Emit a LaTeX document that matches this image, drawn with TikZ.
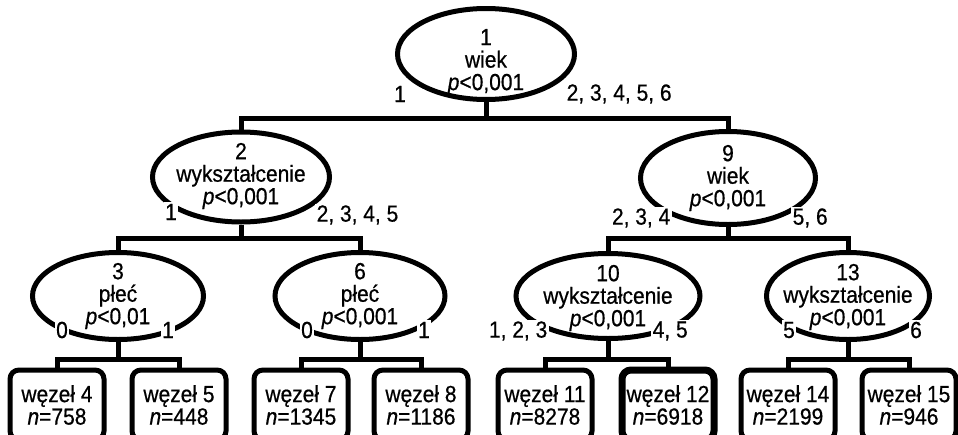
\documentclass[tikz,border=0pt]{standalone}
\usepackage{fontspec}
\setmainfont[FakeStretch=0.9,FakeBold=0.6]{Liberation Sans}
\usetikzlibrary{shapes.geometric}
\begin{document}
\begin{tikzpicture}[x=1pt,y=1pt,
  every node/.style={font=\fontsize{23.3}{22.5}\selectfont, inner sep=0pt},
  split/.style={draw, ellipse, line width=5pt, fill=white, inner sep=0pt},
  txt/.style={align=center},
  lbl/.style={fill=white, inner sep=1.5pt},
  leaf/.style={draw, rectangle, rounded corners=9pt, line width=5pt, minimum width=94pt, minimum height=70pt, fill=white, align=center},
  conn/.style={line width=5pt}]
\useasboundingbox (0,0) rectangle (958,-434);

% split nodes (ellipses)
\node[split, minimum width=177pt, minimum height=91pt] (E1) at (486,-54) {};
\node[split, minimum width=177pt, minimum height=90pt] (E2) at (241,-177) {};
\node[split, minimum width=175pt, minimum height=93pt] (E9) at (728,-178) {};
\node[split, minimum width=171pt, minimum height=87pt] (E3) at (118,-296) {};
\node[split, minimum width=170pt, minimum height=87pt] (E6) at (360,-296) {};
\node[split, minimum width=184pt, minimum height=85pt] (E10) at (608,-296) {};
\node[split, minimum width=163pt, minimum height=87pt] (E13) at (848,-296) {};

% texts in ellipses
\node[txt] (T1) at (486,-62) {1\\wiek\\\textit{p}<0,001};
\node[txt] (T2) at (241,-176) {2\\wykształcenie\\\textit{p}<0,001};
\node[txt] (T9) at (728,-178) {9\\wiek\\\textit{p}<0,001};
\node[txt] (T3) at (118,-296) {3\\płeć\\\textit{p}<0,01};
\node[txt] (T6) at (360,-296) {6\\płeć\\\textit{p}<0,001};
\node[txt] (T10) at (608,-298) {10\\wykształcenie\\\textit{p}<0,001};
\node[txt] (T13) at (848,-297) {13\\wykształcenie\\\textit{p}<0,001};

% leaves
\node[leaf] (B4) at (57,-405) {węzeł 4\\\textit{n}=758};
\node[leaf] (B5) at (179,-405) {węzeł 5\\\textit{n}=448};
\node[leaf] (B7) at (301,-405) {węzeł 7\\\textit{n}=1345};
\node[leaf] (B8) at (421,-405) {węzeł 8\\\textit{n}=1186};
\node[leaf] (B11) at (545,-405) {węzeł 11\\\textit{n}=8278};
\node[leaf, line width=7pt, minimum width=92pt] (B12) at (668,-405) {węzeł 12\\\textit{n}=6918};
\node[leaf] (B14) at (788,-405) {węzeł 14\\\textit{n}=2199};
\node[leaf] (B15) at (909,-405) {węzeł 15\\\textit{n}=946};

% junctions
\coordinate (J1) at (486,-118);
\coordinate (J2) at (241,-238);
\coordinate (J9) at (728,-238);
\coordinate (J3) at (118,-359);
\coordinate (J6) at (360,-359);
\coordinate (J10) at (608,-359);
\coordinate (J13) at (848,-359);

% connectors
\draw[conn] (E1.south) -- (J1);
\draw[conn] (E2.north) |- (J1) -| (E9.north);
\draw[conn] (E2.south) -- (J2);
\draw[conn] (E3.north) |- (J2) -| (E6.north);
\draw[conn] (E9.south) -- (J9);
\draw[conn] (E10.north) |- (J9) -| (E13.north);
\draw[conn] (E3.south) -- (J3);
\draw[conn] (B4.north) |- (J3) -| (B5.north);
\draw[conn] (E6.south) -- (J6);
\draw[conn] (B7.north) |- (J6) -| (B8.north);
\draw[conn] (E10.south) -- (J10);
\draw[conn] (B11.north) |- (J10) -| (B12.north);
\draw[conn] (E13.south) -- (J13);
\draw[conn] (B14.north) |- (J13) -| (B15.north);

% edge labels
\node[lbl] (L1a) at (400,-94) {1};
\node[lbl, anchor=west] (L1b) at (565,-94) {2, 3, 4, 5, 6};
\node[lbl] (L2a) at (171,-212) {1};
\node[lbl, anchor=west] (L2b) at (315,-215) {2, 3, 4, 5};
\node[lbl, anchor=east] (L9a) at (672,-218) {2, 3, 4};
\node[lbl, anchor=west] (L9b) at (791,-218) {5, 6};
\node[lbl] (L3a) at (62,-330) {0};
\node[lbl] (L3b) at (168,-330) {1};
\node[lbl] (L6a) at (307,-330) {0};
\node[lbl] (L6b) at (424,-330) {1};
\node[lbl, anchor=east] (L10a) at (549,-331) {1, 2, 3};
\node[lbl, anchor=west] (L10b) at (651,-331) {4, 5};
\node[lbl] (L13a) at (789,-330) {5};
\node[lbl] (L13b) at (916,-330) {6};
\end{tikzpicture}
\end{document}
